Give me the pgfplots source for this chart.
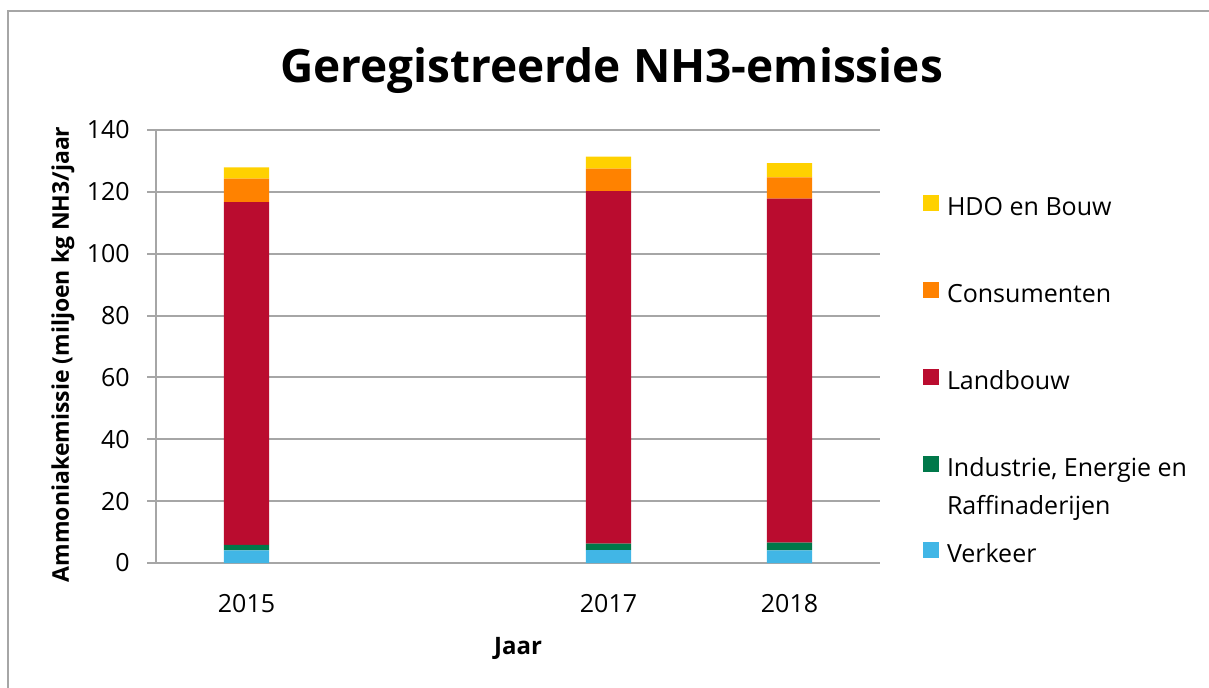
\documentclass[border=0pt]{standalone}
\usepackage{fontspec}
\setmainfont{Open Sans}
\usepackage{pgfplots}
\pgfplotsset{compat=1.18}
\definecolor{cH}{HTML}{FFD100}
\definecolor{cC}{HTML}{FF8200}
\definecolor{cL}{HTML}{BA0C2F}
\definecolor{cI}{HTML}{00784A}
\definecolor{cV}{HTML}{41B6E6}
\definecolor{gridgray}{HTML}{A6A6A6}
\begin{document}
\begin{tikzpicture}
\useasboundingbox (-78pt,-62pt) rectangle (526.5pt,281.5pt);
\draw[gridgray, line width=1pt] (-74pt,276pt) rectangle (545pt,-75pt);
\begin{axis}[
  at={(0,0)}, anchor=south west,
  scale only axis, width=362pt, height=216.5pt,
  xmin=2014.5, xmax=2018.5, ymin=0, ymax=140,
  xtick={2015,2017,2018}, xticklabels={2015,2017,2018},
  ytick={0,20,...,140},
  ybar stacked, bar width=0.25,
  axis x line*=bottom, axis y line*=left,
  axis line style={draw=gridgray, line width=1pt, -},
  ymajorgrids, major grid style={draw=gridgray, line width=1pt},
  tick align=outside, major tick length=4.5pt,
  ytick style={draw=gridgray, line width=1pt},
  xtick style={draw=none},
  /pgf/number format/assume math mode=true,
  /pgf/number format/1000 sep={},
  tick label style={font=\fontsize{12.5}{15}\selectfont},
  yticklabel style={anchor=east, inner sep=0pt, xshift=-8.5pt},
  xticklabel style={anchor=north, inner sep=0pt, yshift=-11pt},
  xlabel={Jaar},
  ylabel={Ammoniakemissie (miljoen kg NH3/jaar},
  every axis x label/.style={at={(axis description cs:0.5,0)}, anchor=center, yshift=-42.5pt, font=\bfseries\fontsize{12}{15}\selectfont},
  every axis y label/.style={at={(axis description cs:-0.1285,0.482)}, anchor=center, rotate=90, font=\bfseries\fontsize{11.5}{14}\selectfont},
  legend style={at={(1.0594,0.8488)}, anchor=north west, draw=none, fill=none,
    inner sep=0pt, outer sep=0pt, row sep=29.6pt, column sep=4pt,
    font=\fontsize{12.5}{15}\selectfont,
    nodes={inner sep=0pt, text height=9pt, text depth=3.5pt}},
  legend cell align=left,
  reverse legend,
  legend image code/.code={\fill[#1] (0pt,-0.5pt) rectangle (8pt,7.5pt);},
]
\addplot[fill=cV, draw=none] coordinates {(2015,4.1) (2017,4.2) (2018,4.1)};
\addlegendentry{Verkeer}
\addplot[fill=cI, draw=none] coordinates {(2015,1.8) (2017,2.1) (2018,2.5)};
\addlegendentry{\begin{tabular}[t]{@{}l@{}}Industrie, Energie en\\[4pt]Raffinaderijen\end{tabular}}
\addplot[fill=cL, draw=none] coordinates {(2015,110.8) (2017,113.9) (2018,111.2)};
\addlegendentry{Landbouw}
\addplot[fill=cC, draw=none] coordinates {(2015,7.6) (2017,7.3) (2018,6.9)};
\addlegendentry{Consumenten}
\addplot[fill=cH, draw=none] coordinates {(2015,3.6) (2017,3.9) (2018,4.6)};
\addlegendentry{HDO en Bouw}
\end{axis}
\node[font=\bfseries\fontsize{23}{27}\selectfont] at (227.75pt,246pt) {Geregistreerde NH3-emissies};
\end{tikzpicture}
\end{document}
